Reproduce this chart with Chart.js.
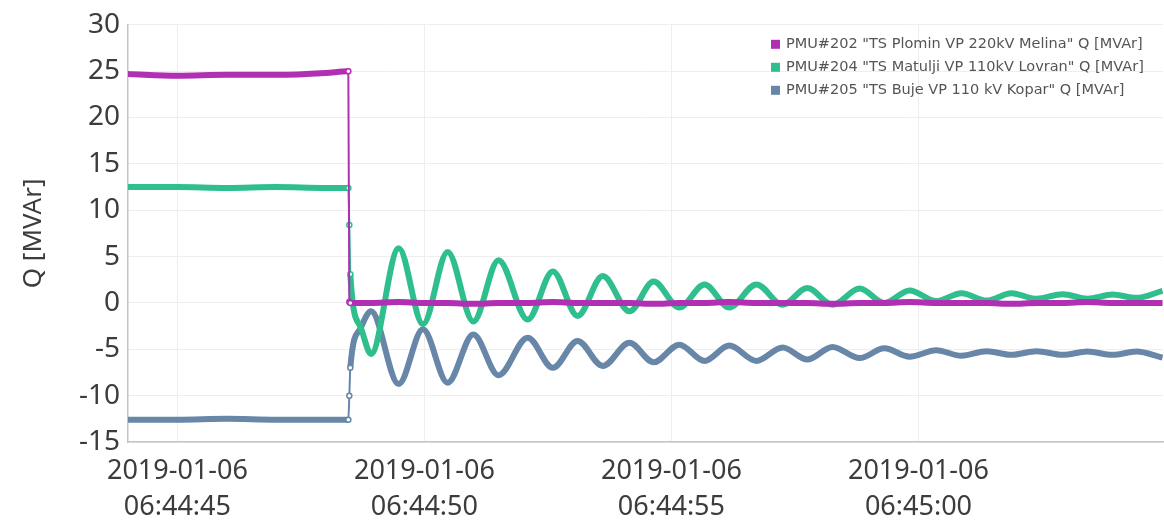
<!DOCTYPE html>
<html>
<head>
<meta charset="utf-8">
<script src="https://cdn.jsdelivr.net/npm/chart.js@4.4.1/dist/chart.umd.min.js"></script>
<style>
  body { margin: 0; background: #fff; }
  #wrap { width: 1164px; height: 524px; position: relative; }
</style>
</head>
<body>
<div id="wrap"><canvas id="qChart"></canvas></div>
<script>
// seconds after 2019-01-06 06:44:45
var secs = [-1.0, 0.0, 1.0, 2.0, 3.0, 3.46, 3.48, 3.50, 3.70, 3.92,
    4.48, 4.97, 5.47, 5.99, 6.50, 7.09, 7.60, 8.10, 8.61, 9.15,
    9.64, 10.16, 10.67, 11.17, 11.72, 12.25, 12.75, 13.26, 13.81, 14.31,
    14.82, 15.36, 15.87, 16.38, 16.88, 17.39, 17.92, 18.42, 18.93, 19.41, 19.94];

var plomin = [24.7, 24.5, 24.6, 24.6, 24.8, 25.0, 0.1, 0.0, 0.0, 0.0,
    0.1, 0.0, 0.0, -0.1, 0.0, 0.0, 0.1, 0.0, 0.0, 0.0,
    -0.1, 0.0, 0.0, 0.1, 0.0, 0.0, 0.0, -0.1, 0.0, 0.0,
    0.1, 0.0, 0.0, 0.0, -0.1, 0.0, 0.0, 0.1, 0.0, 0.0, 0.0];

var matulji = [12.5, 12.5, 12.4, 12.5, 12.4, 12.4, 8.4, 3.1, -2.5, -5.5,
    5.9, -2.3, 5.5, -2.0, 4.6, -1.8, 3.4, -1.4, 2.9, -0.9,
    2.3, -0.5, 2.0, -0.5, 2.0, -0.2, 1.6, -0.2, 1.55, 0.0,
    1.35, 0.2, 1.05, 0.25, 1.05, 0.45, 0.95, 0.45, 0.9, 0.55, 1.3];

var buje = [-12.6, -12.6, -12.5, -12.6, -12.6, -12.6, -10.0, -7.0, -2.8, -0.9,
    -8.75, -2.85, -8.6, -3.4, -7.8, -3.75, -7.0, -4.1, -6.8, -4.3,
    -6.4, -4.5, -6.25, -4.6, -6.25, -4.8, -6.1, -4.75, -5.95, -4.9,
    -5.8, -5.1, -5.7, -5.2, -5.6, -5.2, -5.6, -5.25, -5.6, -5.25, -5.9];

var seriesNames = [
    'PMU#202 "TS Plomin VP 220kV Melina" Q [MVAr]',
    'PMU#204 "TS Matulji VP 110kV Lovran" Q [MVAr]',
    'PMU#205 "TS Buje VP 110 kV Kopar" Q [MVAr]'
];
var seriesColors = ['#b02fb3', '#2fbf8c', '#6786a8'];
var tickDate = '2019-01-06';
var baseSec = 6 * 3600 + 44 * 60 + 45;

function pts(vals) {
    return secs.map(function(t, i) {
        return { x: t, y: vals[i] };
    });
}

function two(n) {
    return (n < 10 ? '0' : '') + n;
}

function clock(v) {
    var s = Math.round(baseSec + v);
    return two(Math.floor(s / 3600)) + ':' + two(Math.floor(s / 60) % 60) + ':' + two(s % 60);
}

function mkSet(i, vals) {
    return {
        label: seriesNames[i],
        data: pts(vals),
        borderColor: seriesColors[i],
        backgroundColor: '#ffffff',
        borderWidth: 6,
        cubicInterpolationMode: 'monotone',
        pointRadius: function(c) {
            return (c.parsed && c.parsed.x > 3.4 && c.parsed.x < 3.55) ? 2.5 : 0;
        },
        pointBorderWidth: 1.5,
        pointBorderColor: seriesColors[i],
        pointBackgroundColor: '#ffffff',
        segment: {
            borderWidth: function(c) {
                return (c.p1.parsed.x - c.p0.parsed.x) < 0.05 ? 2 : 6;
            }
        }
    };
}

var legendBox = {
    id: 'legendBox',
    afterDraw: function(chart) {
        var c = chart.ctx;
        var x = chart.chartArea.right - 392;
        var y = chart.chartArea.top + 19;
        c.save();
        c.font = '14.5px "DejaVu Sans"';
        c.textBaseline = 'middle';
        chart.data.datasets.forEach(function(ds, i) {
            var yy = y + i * 23;
            c.fillStyle = ds.borderColor;
            c.fillRect(x, yy - 4, 9, 9);
            c.fillStyle = '#555';
            c.fillText(ds.label, x + 15, yy);
        });
        c.restore();
    }
};

var ctx = document.getElementById('qChart').getContext('2d');
var config = {
    type: 'line',
    data: {
        datasets: [mkSet(0, plomin), mkSet(1, matulji), mkSet(2, buje)]
    },
    options: {
        responsive: true,
        maintainAspectRatio: false,
        animation: false,
        layout: { padding: { left: 0, right: 1, top: 22, bottom: 0 } },
        plugins: {
            legend: { display: false },
            tooltip: { enabled: false }
        },
        scales: {
            x: {
                type: 'linear',
                min: -1.0,
                max: 19.95,
                afterFit: function(s) { s.height = 82; },
                grid: { color: '#eeeeee', drawTicks: false },
                border: { color: '#c4c4c4', width: 1.5 },
                ticks: {
                    stepSize: 5,
                    includeBounds: false,
                    padding: 11,
                    maxRotation: 0,
                    color: '#3c3c3c',
                    font: { family: 'Noto Sans', size: 27, lineHeight: 1.35 },
                    callback: function(v) { return [tickDate, clock(v)]; }
                }
            },
            y: {
                min: -15,
                max: 30,
                afterFit: function(s) { s.width = 128; },
                grid: { color: '#eeeeee', drawTicks: false },
                border: { color: '#c4c4c4', width: 1.5 },
                ticks: {
                    stepSize: 5,
                    padding: 8,
                    color: '#3c3c3c',
                    font: { family: 'Noto Sans', size: 28 }
                },
                title: {
                    display: true,
                    text: 'Q [MVAr]',
                    color: '#3c3c3c',
                    padding: { top: 18, bottom: 0 },
                    font: { family: 'Noto Sans', size: 26 }
                }
            }
        }
    },
    plugins: [legendBox]
};

var chart = new Chart(ctx, config);
</script>
</body>
</html>
